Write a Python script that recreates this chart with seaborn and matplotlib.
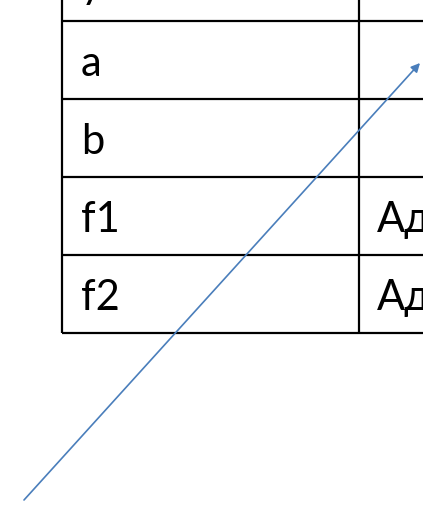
import matplotlib
matplotlib.use('agg')

import seaborn as sns
import matplotlib.pyplot as plt


sns.set_style('white')
plt.rcParams['font.family'] = ['Lato', 'DejaVu Sans']

# table content (first row is cut off by the top edge)
row_labels = ['y', 'a', 'b', 'f1', 'f2']
row_values = ['', '', '', 'Ад', 'Ад']

# arrow, in pixel units of the picture
arrow_x = [24, 420]
arrow_y = [500, 63]

width, height = 423, 505
table_left = 62
col_split = 359
first_row_top = -57
row_h = 78

fig = plt.figure(figsize=(width / 100, height / 100), dpi=100)
ax = fig.add_axes([0, 0, 1, 1])
ax.set_xlim(0, width)
ax.set_ylim(height, 0)

n = len(row_labels)
edges = [first_row_top + i * row_h for i in range(n + 1)]

for y in edges:
    ax.plot([table_left, width + 5], [y, y], color='black', lw=1.6, solid_capstyle='butt')
for x in [table_left, col_split]:
    ax.plot([x, x], [edges[0], edges[-1]], color='black', lw=1.6, solid_capstyle='butt')

for i, (lab, val) in enumerate(zip(row_labels, row_values)):
    base = edges[i] + 0.70 * row_h
    ax.text(table_left + 19, base, lab, fontsize=30, va='baseline', ha='left', color='black')
    ax.text(col_split + 18, base, val, fontsize=30, va='baseline', ha='left', color='black')

ax.annotate('', xy=(arrow_x[1], arrow_y[1]), xytext=(arrow_x[0], arrow_y[0]),
            arrowprops=dict(arrowstyle='-|>', color='#4a7ebb', lw=1.2,
                            mutation_scale=13, shrinkA=0, shrinkB=0))

ax.set_xticks([])
ax.set_yticks([])
sns.despine(top=True, bottom=True, left=True, right=True)

fig.savefig('out.png', dpi=100)
